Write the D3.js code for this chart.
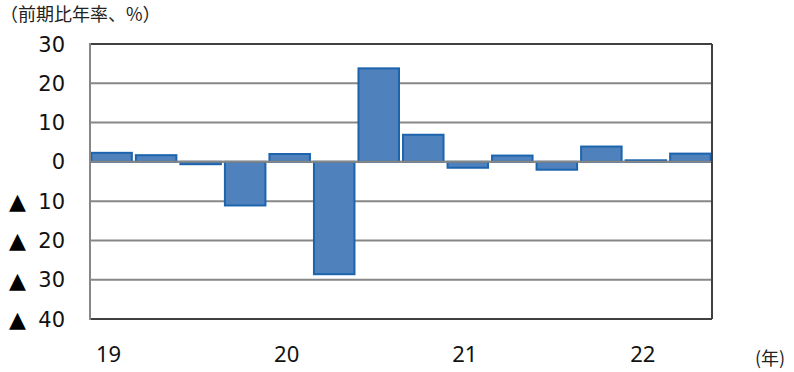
<!DOCTYPE html>
<html lang="ja">
<head>
<meta charset="utf-8">
<title>前期比年率</title>
<script src="https://d3js.org/d3.v7.min.js"></script>
<style>
  body { margin: 0; background: #fff; }
  .ylab { font-family: "DejaVu Sans", Verdana, sans-serif; font-size: 21px; fill: #111; }
  .tri { font-family: "DejaVu Sans", sans-serif; font-size: 22px; fill: #000; }
  .xlab { font-family: "Noto Sans", "Open Sans", sans-serif; font-size: 22px; fill: #111; }
  .note { font-family: "Noto Sans CJK JP", sans-serif; font-size: 18px; fill: #222; }
</style>
</head>
<body>
<div id="chart"></div>
<script>
// quarterly growth, 2019Q1 .. 2022Q2
var quarters = ["19Q1","19Q2","19Q3","19Q4","20Q1","20Q2","20Q3","20Q4","21Q1","21Q2","21Q3","21Q4","22Q1","22Q2"];
var values = [2.3, 1.7, -0.6, -11.1, 2.0, -28.6, 23.8, 6.9, -1.5, 1.6, -2.0, 3.9, 0.4, 2.1];
var yTicks = [30, 20, 10, 0, -10, -20, -30, -40];
var yearLabels = [{q: "19Q1", text: "19"}, {q: "20Q1", text: "20"}, {q: "21Q1", text: "21"}, {q: "22Q1", text: "22"}];

var W = 794, H = 372;
var plot = {left: 90, right: 712, top: 44, bottom: 319};

var svg = d3.select("#chart").append("svg")
    .attr("width", W).attr("height", H);

var x = d3.scaleBand().domain(quarters).range([plot.left, plot.right]).paddingInner(0.09).paddingOuter(0.03);
var y = d3.scaleLinear().domain([-40, 30]).range([plot.bottom, plot.top]);

// gridlines
svg.append("g").selectAll("line")
    .data(yTicks.filter(function(d) { return d != 30 && d != -40; }))
    .enter().append("line")
    .attr("x1", plot.left).attr("x2", plot.right)
    .attr("y1", function(d) { return y(d); }).attr("y2", function(d) { return y(d); })
    .attr("stroke", "#878787").attr("stroke-width", 2);

// bars
svg.append("g").selectAll("rect")
    .data(values)
    .enter().append("rect")
    .attr("x", function(d, i) { return x(quarters[i]); })
    .attr("width", x.bandwidth())
    .attr("y", function(d) { return y(Math.max(0, d)); })
    .attr("height", function(d) { return Math.abs(y(d) - y(0)); })
    .attr("fill", "#4f81bd")
    .attr("stroke", "#1c64ad")
    .attr("stroke-width", 2);

// zero line on top of the bars
svg.append("line")
    .attr("x1", plot.left).attr("x2", plot.right)
    .attr("y1", y(0)).attr("y2", y(0))
    .attr("stroke", "#878787").attr("stroke-width", 2);

// frame
svg.append("line").attr("x1", plot.left).attr("x2", plot.right).attr("y1", plot.top).attr("y2", plot.top)
    .attr("stroke", "#404040").attr("stroke-width", 2);
svg.append("line").attr("x1", plot.left).attr("x2", plot.right).attr("y1", plot.bottom).attr("y2", plot.bottom)
    .attr("stroke", "#404040").attr("stroke-width", 2);
svg.append("line").attr("x1", plot.right).attr("x2", plot.right).attr("y1", plot.top).attr("y2", plot.bottom)
    .attr("stroke", "#404040").attr("stroke-width", 2);
svg.append("line").attr("x1", plot.left).attr("x2", plot.left).attr("y1", plot.top - 1).attr("y2", plot.bottom + 1)
    .attr("stroke", "#878787").attr("stroke-width", 2);

// y labels: number right-aligned, ▲ for negatives at the far left
svg.append("g").selectAll("text")
    .data(yTicks)
    .enter().append("text")
    .attr("class", "ylab")
    .attr("x", 65)
    .attr("y", function(d) { return y(d); })
    .attr("dy", "0.36em")
    .attr("text-anchor", "end")
    .text(function(d) { return Math.abs(d); });

svg.append("g").selectAll("text")
    .data(yTicks.filter(function(d) { return d < 0; }))
    .enter().append("text")
    .attr("class", "tri")
    .attr("x", 9)
    .attr("y", function(d) { return y(d); })
    .attr("dy", "0.36em")
    .text("\u25B2");

// x labels
svg.append("g").selectAll("text")
    .data(yearLabels)
    .enter().append("text")
    .attr("class", "xlab")
    .attr("x", function(d) { return x(d.q) + x.bandwidth() / 2 - 3; })
    .attr("y", 362)
    .attr("text-anchor", "middle")
    .text(function(d) { return d.text; });

svg.append("text").attr("class", "note")
    .attr("x", 0).attr("y", 21)
    .text("（前期比年率、%）");

svg.append("text").attr("class", "note")
    .attr("x", 755).attr("y", 365)
    .text("(年)");
</script>
</body>
</html>
